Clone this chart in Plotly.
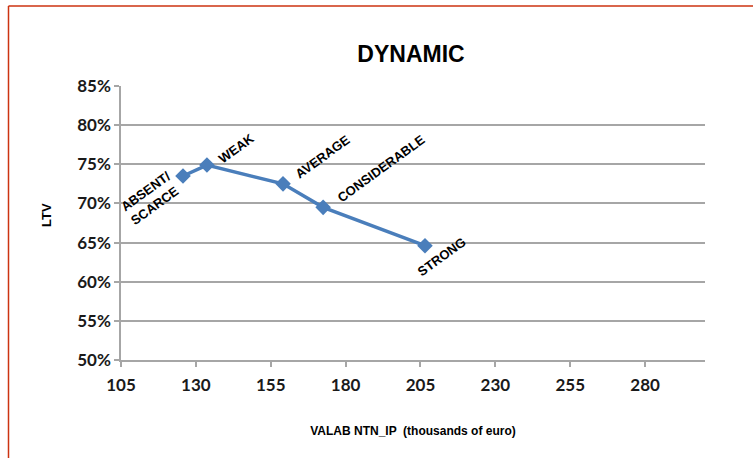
import plotly.graph_objects as go

# Collateral strength classes and their average loan-to-value
categories = ["ABSENT/<br>SCARCE", "WEAK", "AVERAGE", "CONSIDERABLE", "STRONG"]
valab_ntn_ip = [125.7, 133.7, 159.1, 172.5, 206.5]   # thousands of euro
ltv = [0.735, 0.749, 0.725, 0.695, 0.646]

x_ticks = [105, 130, 155, 180, 205, 230, 255, 280]
y_ticks = [0.50, 0.55, 0.60, 0.65, 0.70, 0.75, 0.80, 0.85]

# pixel offsets for the rotated point labels
label_shift = [(-32, -22), (29, 17), (40, 27), (58, 39), (17, -11)]

W, H = 753, 458
L, R, T, B = 121, 48, 86, 98
grid = "#a6a6a6"

fig = go.Figure()
fig.add_trace(go.Scatter(
    x=valab_ntn_ip, y=ltv, mode="lines+markers",
    line=dict(color="#4a7ebb", width=3.5),
    marker=dict(symbol="diamond", size=12, color="#4a7ebb"),
    hoverinfo="skip", showlegend=False,
))

for cat, xv, yv, (dx, dy) in zip(categories, valab_ntn_ip, ltv, label_shift):
    fig.add_annotation(
        x=xv, y=yv, text=cat, showarrow=False, textangle=-36,
        xanchor="center", yanchor="middle", xshift=dx, yshift=dy,
        font=dict(family="Liberation Sans", size=13, color="black", weight="bold"),
        align="left",
    )

# y-axis title
fig.add_annotation(
    xref="paper", yref="paper", x=(46 - L) / (W - L - R), y=(H - B - 215) / (H - T - B),
    text="LTV", showarrow=False, textangle=-90, xanchor="center", yanchor="middle",
    font=dict(family="Liberation Sans", size=13, color="black", weight="bold"),
)

# page frame
pw, ph = W - L - R, H - T - B
fx = (8.5 - L) / pw
fy = (H - B - 6) / ph
fig.add_shape(type="line", xref="paper", yref="paper", x0=fx, x1=fx, y0=-0.5, y1=fy,
              line=dict(color="#cc3311", width=1.5))
fig.add_shape(type="line", xref="paper", yref="paper", x0=fx, x1=1.2, y0=fy, y1=fy,
              line=dict(color="#cc3311", width=1.5))

tickfont = dict(family="Lato", size=17, color="#1a1a1a", weight="bold")

fig.update_layout(
    width=W, height=H,
    margin=dict(l=L, r=R, t=T, b=B),
    paper_bgcolor="white", plot_bgcolor="white",
    title=dict(text="DYNAMIC", x=(411) / W, xanchor="center", xref="container",
               y=1 - 54 / H, yanchor="middle", yref="container",
               font=dict(family="Liberation Sans", size=23, color="black", weight="bold")),
    xaxis=dict(
        range=[105, 300], tickvals=x_ticks, ticktext=[str(v) for v in x_ticks],
        showgrid=False, zeroline=False, showline=True, linecolor=grid, linewidth=1.5,
        ticks="outside", ticklen=5, tickcolor=grid, tickwidth=1.5,
        tickfont=tickfont, ticklabelstandoff=4,
        title=dict(text="VALAB NTN_IP  (thousands of euro)", standoff=32,
                   font=dict(family="Liberation Sans", size=12, color="black", weight="bold")),
    ),
    yaxis=dict(
        range=[0.50, 0.85], tickvals=y_ticks, tickformat=".0%",
        showgrid=True, gridcolor=grid, gridwidth=1.5, zeroline=False,
        showline=True, linecolor=grid, linewidth=1.5,
        ticks="outside", ticklen=5, tickcolor=grid, tickwidth=1.5,
        tickfont=tickfont,
    ),
)

fig.write_html("out.html")
